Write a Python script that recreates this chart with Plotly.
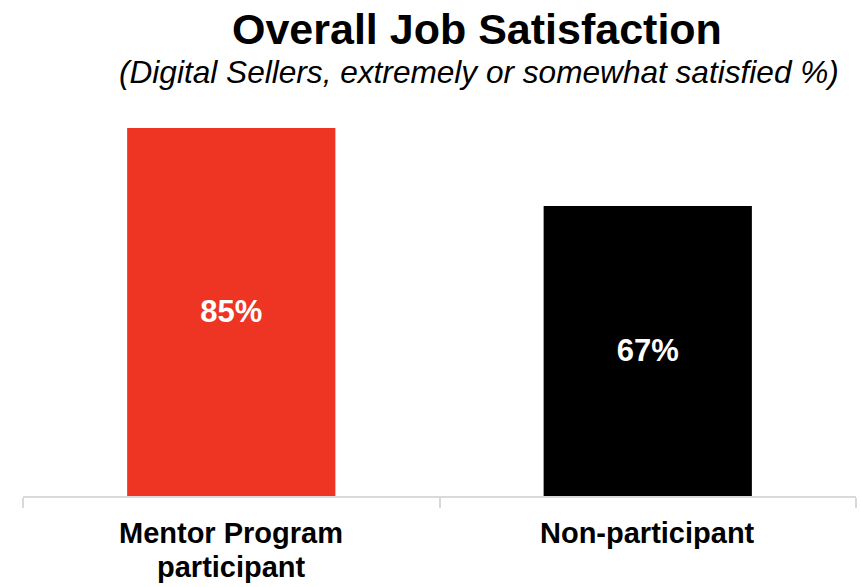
import plotly.graph_objects as go

# Survey results: share of digital sellers extremely or somewhat satisfied
categories = ["Mentor Program participant", "Non-participant"]
category_lines = [["Mentor Program", "participant"], ["Non-participant"]]
satisfied_pct = [85, 67]
bar_colors = ["#EE3524", "#000000"]

title_text = "Overall Job Satisfaction"
subtitle_text = "(Digital Sellers, extremely or somewhat satisfied %)"

FONT = "Liberation Sans, Arial, sans-serif"

fig = go.Figure(
    go.Bar(
        x=categories,
        y=satisfied_pct,
        marker=dict(color=bar_colors, line=dict(width=0)),
        text=[f"{v}%" for v in satisfied_pct],
        textposition="inside",
        insidetextanchor="middle",
        textangle=0,
        textfont=dict(family=FONT, size=31, color="white", weight="bold"),
        hoverinfo="skip",
    )
)

# Category labels below the axis, one annotation per line for tight leading
label_size = 29
line_centers = [-0.0855, -0.164]
label_annotations = []
for cat, lines in zip(categories, category_lines):
    for i, line in enumerate(lines):
        label_annotations.append(
            dict(
                text=line,
                xref="x", yref="paper",
                x=cat, y=line_centers[i],
                xanchor="center", yanchor="middle",
                showarrow=False,
                font=dict(family=FONT, size=label_size, color="black", weight="bold"),
            )
        )

fig.update_layout(
    width=861,
    height=587,
    margin=dict(l=23, r=5, t=63, b=91),
    paper_bgcolor="white",
    plot_bgcolor="white",
    bargap=0.5,
    showlegend=False,
    font=dict(family=FONT, color="black"),
    xaxis=dict(
        showline=True,
        linecolor="#D9D9D9",
        linewidth=2,
        ticks="outside",
        tickson="boundaries",
        ticklen=10,
        tickwidth=2,
        tickcolor="#D9D9D9",
        showticklabels=False,
        showgrid=False,
        zeroline=False,
    ),
    yaxis=dict(
        range=[0, 100],
        visible=False,
        showgrid=False,
        zeroline=False,
    ),
    annotations=[
        dict(
            text=title_text,
            xref="paper", yref="paper",
            x=0.5456, y=1.0785,
            xanchor="center", yanchor="middle",
            showarrow=False,
            font=dict(family=FONT, size=43, color="black", weight="bold"),
        ),
        dict(
            text=f"<i>{subtitle_text}</i>",
            xref="paper", yref="paper",
            x=0.5474, y=0.9785,
            xanchor="center", yanchor="middle",
            showarrow=False,
            font=dict(family=FONT, size=31.6, color="black"),
        ),
    ] + label_annotations,
)

fig.write_html("out.html")
